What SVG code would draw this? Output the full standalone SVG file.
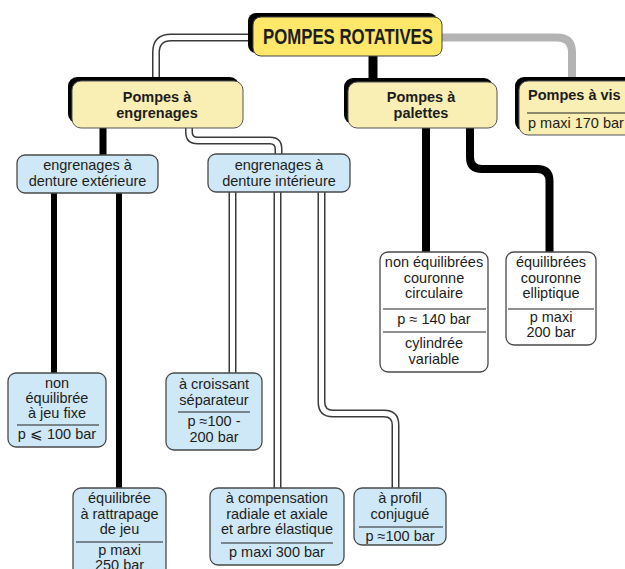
<svg xmlns="http://www.w3.org/2000/svg" width="625" height="569" viewBox="0 0 625 569">
<style>
text{font-family:"Liberation Sans",Arial,sans-serif;fill:#1d1d1b;text-anchor:middle}
.t{font-size:14.5px}
.b{font-size:14.5px;font-weight:bold}
.blue{fill:#CFE8F7;stroke:#4a4a4a;stroke-width:1.3}
.white{fill:#fff;stroke:#4a4a4a;stroke-width:1.3}
.sh{fill:#000}
.yel{fill:#F9EEB3;stroke:#555;stroke-width:1}
.sep{stroke:#222;stroke-width:1.1}
.blk{fill:none;stroke:#000;stroke-linejoin:round}
.dbo{fill:none;stroke:#3a3a3a;stroke-width:8}
.dbi{fill:none;stroke:#fff;stroke-width:5}
</style>
<defs>
<path id="c1" d="M252 37.5 H171 Q156 37.5 156 52.5 V80"/>
<path id="c2" d="M189 127 V132 Q189 140.5 197.5 140.5 H270 Q278.5 140.5 278.5 149 V155"/>
<path id="c3" d="M232.5 191 V374"/>
<path id="c4" d="M277.5 191 V489"/>
<path id="c5" d="M321.5 191 V402 Q321.5 413.5 333 413.5 H384 Q395.5 413.5 395.5 425 V489"/>
</defs>
<g id="connectors">
<use href="#c1" class="dbo"/><use href="#c1" class="dbi"/>
<use href="#c2" class="dbo"/><use href="#c2" class="dbi"/>
<use href="#c3" class="dbo"/><use href="#c3" class="dbi"/>
<use href="#c4" class="dbo"/><use href="#c4" class="dbi"/>
<use href="#c5" class="dbo"/><use href="#c5" class="dbi"/>
<path d="M440 37.5 H557 Q572 37.5 572 52.5 V80" fill="none" stroke="#B3B3B3" stroke-width="8"/>
<path class="blk" d="M373 54 V80" stroke-width="9"/>
<path class="blk" d="M103 127 V156" stroke-width="7"/>
<path class="blk" d="M54 192 V374" stroke-width="6"/>
<path class="blk" d="M119 192 V489" stroke-width="6"/>
<path class="blk" d="M426 127 V253" stroke-width="8"/>
<path class="blk" d="M470 127 V157 Q470 169 482 169 H537 Q549.5 169 549.5 181 V253" stroke-width="8"/>
</g>
<g id="root">
<rect x="248" y="13" width="189" height="40" rx="8" class="sh"/>
<rect x="253" y="17" width="189" height="39" rx="8" fill="#FFE76A" stroke="#444" stroke-width="1"/>
<text x="348" y="44" font-size="22" font-weight="bold" textLength="170" lengthAdjust="spacingAndGlyphs">POMPES ROTATIVES</text>
</g>
<g id="engrenages">
<rect x="68" y="77" width="171" height="46" rx="9" class="sh"/>
<rect x="72" y="81" width="171" height="47" rx="9" class="yel"/>
<text class="b" x="157" y="102">Pompes à</text>
<text class="b" x="157" y="118">engrenages</text>
</g>
<g id="palettes">
<rect x="344" y="78" width="149" height="46" rx="9" class="sh"/>
<rect x="348" y="82" width="149" height="46" rx="9" class="yel"/>
<text class="b" x="421" y="102">Pompes à</text>
<text class="b" x="421" y="118">palettes</text>
</g>
<g id="vis">
<rect x="515" y="77" width="130" height="54" rx="9" class="sh"/>
<rect x="519" y="81" width="130" height="54" rx="9" class="yel"/>
<text class="b" x="528" y="100" style="text-anchor:start">Pompes à vis</text>
<line class="sep" x1="527" y1="113" x2="625" y2="113"/>
<text class="t" x="528" y="128" style="text-anchor:start">p maxi 170 bar</text>
</g>
<g id="exterieure">
<rect x="17" y="155" width="141" height="38" rx="8" class="blue"/>
<text class="t" x="87.5" y="170">engrenages à</text>
<text class="t" x="87.5" y="186">denture extérieure</text>
</g>
<g id="interieure">
<rect x="208" y="154" width="142" height="38" rx="8" class="blue"/>
<text class="t" x="279" y="170">engrenages à</text>
<text class="t" x="279" y="186">denture intérieure</text>
</g>
<g id="non-equilibree">
<rect x="8" y="373" width="98" height="74" rx="8" class="blue"/>
<text class="t" x="57" y="388">non</text>
<text class="t" x="57" y="403">équilibrée</text>
<text class="t" x="57" y="418">à jeu fixe</text>
<line class="sep" x1="17" y1="425" x2="99" y2="425"/>
<text class="t" x="57" y="439">p ⩽ 100 bar</text>
</g>
<g id="equilibree-rattrapage">
<rect x="73" y="488" width="93" height="95" rx="8" class="blue"/>
<text class="t" x="119.5" y="503">équilibrée</text>
<text class="t" x="119.5" y="519">à rattrapage</text>
<text class="t" x="119.5" y="534">de jeu</text>
<line class="sep" x1="76" y1="542" x2="163" y2="542"/>
<text class="t" x="119.5" y="555">p maxi</text>
<text class="t" x="119.5" y="570">250 bar</text>
</g>
<g id="croissant">
<rect x="166" y="373" width="96" height="77" rx="8" class="blue"/>
<text class="t" x="214" y="389">à croissant</text>
<text class="t" x="214" y="405">séparateur</text>
<line class="sep" x1="178" y1="412" x2="250" y2="412"/>
<text class="t" x="214" y="426">p ≈100 -</text>
<text class="t" x="214" y="442">200 bar</text>
</g>
<g id="compensation">
<rect x="210" y="488" width="134" height="77" rx="8" class="blue"/>
<text class="t" x="277" y="503">à compensation</text>
<text class="t" x="277" y="519">radiale et axiale</text>
<text class="t" x="277" y="534">et arbre élastique</text>
<line class="sep" x1="221" y1="543" x2="333" y2="543"/>
<text class="t" x="277" y="557">p maxi 300 bar</text>
</g>
<g id="profil">
<rect x="354" y="488" width="92" height="57" rx="8" class="blue"/>
<text class="t" x="400" y="503">à profil</text>
<text class="t" x="400" y="519">conjugué</text>
<line class="sep" x1="359" y1="527" x2="443" y2="527"/>
<text class="t" x="400" y="541">p ≈100 bar</text>
</g>
<g id="non-equilibrees-palettes">
<rect x="380" y="252" width="108" height="120" rx="8" class="white"/>
<text class="t" x="434" y="267">non équilibrées</text>
<text class="t" x="434" y="283">couronne</text>
<text class="t" x="434" y="298">circulaire</text>
<line class="sep" x1="383" y1="309" x2="486" y2="309"/>
<text class="t" x="434" y="324">p ≈ 140 bar</text>
<line class="sep" x1="383" y1="332" x2="486" y2="332"/>
<text class="t" x="434" y="348">cylindrée</text>
<text class="t" x="434" y="364">variable</text>
</g>
<g id="equilibrees-palettes">
<rect x="506" y="252" width="90" height="93" rx="8" class="white"/>
<text class="t" x="551" y="267">équilibrées</text>
<text class="t" x="551" y="283">couronne</text>
<text class="t" x="551" y="298">elliptique</text>
<line class="sep" x1="508" y1="309" x2="594" y2="309"/>
<text class="t" x="551" y="322">p maxi</text>
<text class="t" x="551" y="337">200 bar</text>
</g>
</svg>
